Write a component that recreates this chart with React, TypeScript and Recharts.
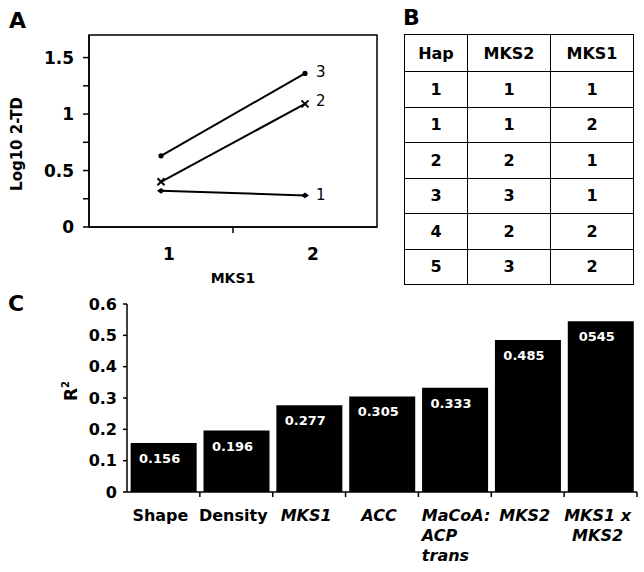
import {
  LineChart,
  Line,
  BarChart,
  Bar,
  XAxis,
  YAxis,
  ReferenceArea,
  LabelList,
} from 'recharts';

const FONT = '"DejaVu Sans", "Liberation Sans", Arial, sans-serif';

// Panel A: Log10 2-TD by MKS1 level, one line per MKS2 haplotype
const mks1Levels = [1, 2];
const hap1 = [0.32, 0.28];
const hap2 = [0.4, 1.09];
const hap3 = [0.63, 1.36];
const lineTicksX = [1, 1.5, 2];
const lineTicksY = [0, 0.25, 0.5, 0.75, 1, 1.25, 1.5];

// Panel B: haplotype table
const tableHeader = ['Hap', 'MKS2', 'MKS1'];
const hapCol = [1, 1, 2, 3, 4, 5];
const mks2Col = [1, 1, 2, 3, 2, 3];
const mks1Col = [1, 2, 1, 1, 2, 2];

// Panel C: R2 per trait
const traits = ['Shape', 'Density', 'MKS1', 'ACC', 'MaCoA: ACP trans', 'MKS2', 'MKS1 x MKS2'];
const traitLines = [['Shape'], ['Density'], ['MKS1'], ['ACC'], ['MaCoA:', 'ACP', 'trans'], ['MKS2'], ['MKS1 x', 'MKS2']];
const italicTrait = [false, false, true, true, true, true, true];
const r2 = [0.156, 0.196, 0.277, 0.305, 0.333, 0.485, 0.545];
const r2Text = ['0.156', '0.196', '0.277', '0.305', '0.333', '0.485', '0545'];
const barTicksY = [0, 0.1, 0.2, 0.3, 0.4, 0.5, 0.6];

const lineRows = mks1Levels.map((m, i) => ({ mks1: m, h1: hap1[i], h2: hap2[i], h3: hap3[i] }));
const barRows = traits.map((t, i) => ({ trait: t, r2: r2[i] }));

const BAND = 510 / traits.length;

function DotCircle({ cx, cy }: any) {
  return <circle cx={cx} cy={cy} r={2.6} fill="#000" />;
}

function DotCross({ cx, cy }: any) {
  return (
    <g stroke="#000" strokeWidth={2}>
      <line x1={cx - 3.5} y1={cy - 3.5} x2={cx + 3.5} y2={cy + 3.5} />
      <line x1={cx - 3.5} y1={cy + 3.5} x2={cx + 3.5} y2={cy - 3.5} />
    </g>
  );
}

function DotDiamond({ cx, cy }: any) {
  return <polygon points={`${cx - 4},${cy} ${cx},${cy - 2.8} ${cx + 4},${cy} ${cx},${cy + 2.8}`} fill="#000" />;
}

function endLabel(text: string, dy: number) {
  return (p: any) =>
    p.index === 1 ? (
      <text x={p.x + 11} y={p.y + dy} fontFamily={FONT} fontSize={15} fill="#000">
        {text}
      </text>
    ) : null;
}

function LineXTick({ x, y, payload }: any) {
  if (payload.value === 1.5) {
    return <line x1={x} y1={y} x2={x} y2={y + 6} stroke="#000" strokeWidth={1.5} />;
  }
  return (
    <text x={x + 8} y={y + 33} textAnchor="middle" fontFamily={FONT} fontSize={17} fontWeight="bold" fill="#000">
      {payload.value}
    </text>
  );
}

function LogLabel({ viewBox }: any) {
  const cy = viewBox.y + viewBox.height / 2 + 13;
  return (
    <text transform={`translate(22,${cy}) rotate(-90)`} textAnchor="middle" fontFamily={FONT} fontSize={15} fontWeight="bold" fill="#000">
      Log10 2-TD
    </text>
  );
}

function TraitTick({ x, y, payload }: any) {
  const i = traits.indexOf(payload.value);
  const lines = traitLines[i] || [String(payload.value)];
  const left = lines.length > 2;
  return (
    <g>
      <line x1={x + BAND / 2} y1={y} x2={x + BAND / 2} y2={y + 5} stroke="#000" strokeWidth={1.5} />
      {lines.map((ln, k) => (
        <text
          key={k}
          x={left ? x - 33 : x - 3}
          y={y + 29 + k * 20}
          textAnchor={left ? 'start' : 'middle'}
          fontFamily={FONT}
          fontSize={16}
          fontWeight="bold"
          fontStyle={italicTrait[i] ? 'italic' : 'normal'}
          fill="#000"
        >
          {ln}
        </text>
      ))}
    </g>
  );
}

function R2Label({ viewBox }: any) {
  const cy = viewBox.y + viewBox.height / 2 - 7;
  return (
    <text transform={`translate(77,${cy}) rotate(-90)`} textAnchor="middle" fontFamily={FONT} fontSize={17} fontWeight="bold" fill="#000">
      R<tspan dy={-8} fontSize={10}>2</tspan>
    </text>
  );
}

function BarValue(p: any) {
  return (
    <text x={p.x + p.width / 2 - 4} y={p.y + 20} textAnchor="middle" fontFamily={FONT} fontSize={13} fontWeight="bold" fill="#fff">
      {r2Text[p.index]}
    </text>
  );
}

const panelLetter = (txt: string, left: number, top: number) => (
  <div style={{ position: 'absolute', left, top, fontFamily: FONT, fontWeight: 'bold', fontSize: 22, lineHeight: 1 }}>{txt}</div>
);

const cellStyle: React.CSSProperties = {
  border: '1.5px solid #000',
  textAlign: 'center',
  fontFamily: FONT,
  fontWeight: 'bold',
  fontSize: 16,
  padding: 0,
};

export default function App() {
  const rows = hapCol.map((h, i) => [h, mks2Col[i], mks1Col[i]]);
  return (
    <div style={{ position: 'absolute', left: 0, top: 0, width: 644, height: 572, background: '#fff' }}>
      {panelLetter('A', 9, 10)}
      {panelLetter('B', 403, 7)}
      {panelLetter('C', 8, 293)}

      {/* A */}
      <div style={{ position: 'absolute', left: 0, top: 0 }}>
        <LineChart width={400} height={290} data={lineRows} margin={{ top: 35, right: 23, left: 0, bottom: 0 }}>
          <XAxis
            dataKey="mks1"
            type="number"
            domain={[0.5, 2.5]}
            ticks={lineTicksX}
            interval={0}
            allowDataOverflow
            height={63}
            tickSize={0}
            tickMargin={0}
            tickLine={false}
            tick={LineXTick}
            axisLine={{ stroke: '#000', strokeWidth: 1.5 }}
            label={{ value: 'MKS1', position: 'insideBottom', offset: 7, fill: '#000', fontFamily: FONT, fontSize: 14, fontWeight: 'bold' }}
          />
          <YAxis
            type="number"
            domain={[0, 1.7]}
            ticks={lineTicksY}
            interval={0}
            allowDataOverflow
            width={89}
            tickSize={6}
            tickMargin={9}
            tickLine={{ stroke: '#000', strokeWidth: 1.5 }}
            axisLine={{ stroke: '#000', strokeWidth: 1.5 }}
            tick={{ fill: '#000', fontFamily: FONT, fontSize: 17, fontWeight: 'bold' }}
            tickFormatter={(v: number) => (v % 0.5 === 0 ? String(v) : '')}
            label={<LogLabel />}
          />
          <ReferenceArea x1={0.5} x2={2.5} y1={0} y2={1.7} fill="none" stroke="#000" strokeWidth={1.5} ifOverflow="visible" />
          <Line dataKey="h3" stroke="#000" strokeWidth={2} dot={DotCircle} isAnimationActive={false}>
            <LabelList dataKey="h3" content={endLabel('3', 4)} />
          </Line>
          <Line dataKey="h2" stroke="#000" strokeWidth={2} dot={DotCross} isAnimationActive={false}>
            <LabelList dataKey="h2" content={endLabel('2', 2)} />
          </Line>
          <Line dataKey="h1" stroke="#000" strokeWidth={2} dot={DotDiamond} isAnimationActive={false}>
            <LabelList dataKey="h1" content={endLabel('1', 5)} />
          </Line>
        </LineChart>
      </div>

      {/* B */}
      <table
        style={{
          position: 'absolute',
          left: 404,
          top: 34,
          width: 229,
          height: 250,
          borderCollapse: 'collapse',
          tableLayout: 'fixed',
        }}
      >
        <colgroup>
          <col style={{ width: 63 }} />
          <col style={{ width: 83 }} />
          <col style={{ width: 83 }} />
        </colgroup>
        <tbody>
          <tr style={{ height: 37 }}>
            {tableHeader.map((h) => (
              <td key={h} style={cellStyle}>{h}</td>
            ))}
          </tr>
          {rows.map((r, i) => (
            <tr key={i} style={{ height: 35.5 }}>
              {r.map((v, j) => (
                <td key={j} style={cellStyle}>{v}</td>
              ))}
            </tr>
          ))}
        </tbody>
      </table>

      {/* C */}
      <div style={{ position: 'absolute', left: 0, top: 280 }}>
        <BarChart width={644} height={292} data={barRows} margin={{ top: 24, right: 7, left: 0, bottom: 0 }} barCategoryGap="5%">
          <XAxis
            dataKey="trait"
            interval={0}
            height={80}
            tickSize={0}
            tickMargin={0}
            tickLine={false}
            tick={TraitTick}
            axisLine={{ stroke: '#000', strokeWidth: 1.5 }}
          />
          <YAxis
            type="number"
            domain={[0, 0.6]}
            ticks={barTicksY}
            interval={0}
            width={127}
            tickSize={4}
            tickMargin={6}
            tickLine={{ stroke: '#000', strokeWidth: 1.5 }}
            axisLine={{ stroke: '#000', strokeWidth: 1.5 }}
            tick={{ fill: '#000', fontFamily: FONT, fontSize: 16, fontWeight: 'bold' }}
            label={<R2Label />}
          />
          <Bar dataKey="r2" fill="#000" isAnimationActive={false}>
            <LabelList dataKey="r2" content={BarValue} />
          </Bar>
        </BarChart>
      </div>
    </div>
  );
}
